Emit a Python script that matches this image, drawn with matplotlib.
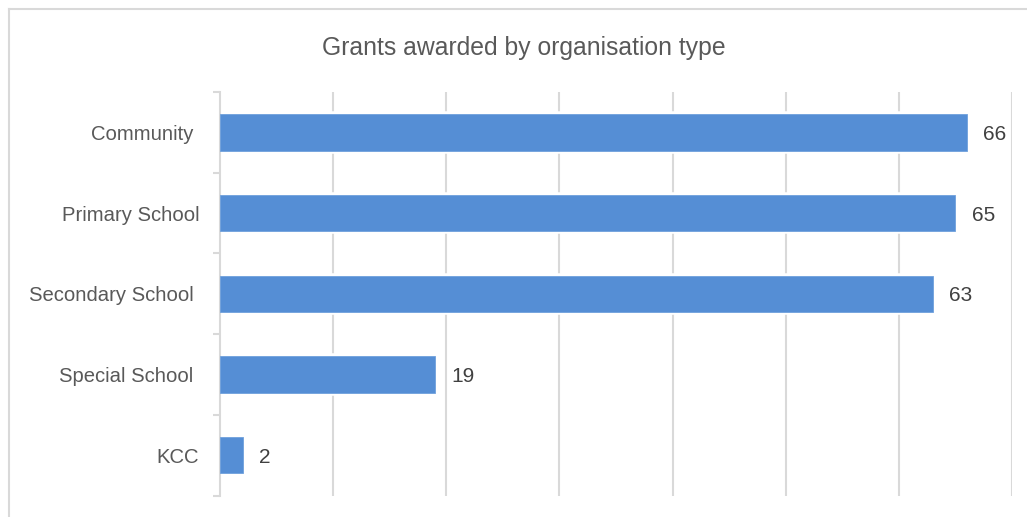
import matplotlib
matplotlib.use("Agg")
import matplotlib.pyplot as plt
from matplotlib.lines import Line2D

categories = ["Community ", "Primary School", "Secondary School ", "Special School ", "KCC"]
values = [66, 65, 63, 19, 2]
title = "Grants awarded by organisation type"

plt.rcParams['font.family'] = ['Liberation Sans', 'DejaVu Sans']

W, H = 1027, 517
fig = plt.figure(figsize=(W / 100, H / 100), dpi=100)
ax_left, ax_right, ax_top, ax_bottom = 220, 1012, 92, 495.5
ax = fig.add_axes([ax_left / W, 1 - ax_bottom / H, (ax_right - ax_left) / W, (ax_bottom - ax_top) / H])

n = len(categories)
ypos = list(range(n))
# white halo behind bars (gridlines broken around bars)
ax.barh(ypos, values, height=0.45, color='white', edgecolor='white', linewidth=4, zorder=2)
ax.barh(ypos, values, height=0.45, color='#558ed5', edgecolor='#6fa0dc', linewidth=0.6, zorder=3)

ax.set_xlim(0, 70)
ax.set_ylim(n - 0.5, -0.5)
ax.set_xticks(range(10, 71, 10))
ax.tick_params(axis='x', length=0, labelbottom=False)
ax.grid(axis='x', color='#d9d9d9', linewidth=1.5, zorder=1)
ax.set_axisbelow(True)

# y ticks at category boundaries, labels at centres
ax.set_yticks([i - 0.5 for i in range(n + 1)])
ax.set_yticklabels([])
ax.tick_params(axis='y', which='major', length=5, width=1.5, color='#d9d9d9')
ax.set_yticks(ypos, minor=True)
ax.set_yticklabels(categories, minor=True, fontsize=14.6, color='#595959')
ax.tick_params(axis='y', which='minor', length=0, pad=15)

for s in ['top', 'right', 'bottom']:
    ax.spines[s].set_visible(False)
ax.spines['left'].set_color('#d9d9d9')
ax.spines['left'].set_linewidth(1.5)

for y, v in zip(ypos, values):
    ax.annotate(str(v), (v, y), xytext=(12, 0), textcoords='offset points',
                va='center_baseline', ha='left', fontsize=15, color='#404040', zorder=4)

fig.text(524 / W, 1 - 45 / H, title, ha='center', va='center_baseline', fontsize=17.8, color='#595959')

# chart border (left and top visible)
fig.add_artist(Line2D([8.5 / W, 8.5 / W], [0, 1 - 8.5 / H], color='#d9d9d9', linewidth=1.5, transform=fig.transFigure))
fig.add_artist(Line2D([8.5 / W, 1], [1 - 8.5 / H, 1 - 8.5 / H], color='#d9d9d9', linewidth=1.5, transform=fig.transFigure))

fig.savefig('out.png', dpi=100, facecolor='white')
